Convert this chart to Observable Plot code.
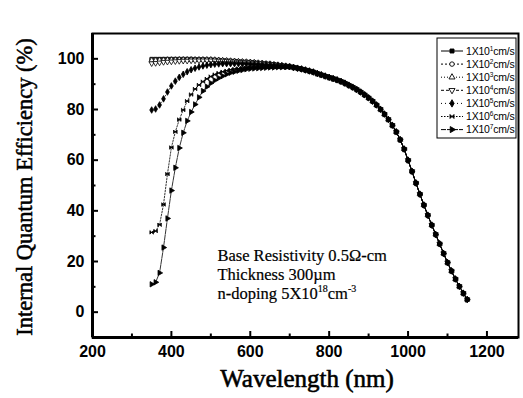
<!DOCTYPE html>
<html><head><meta charset="utf-8">
<script src="https://cdn.jsdelivr.net/npm/d3@7"></script>
<script src="https://cdn.jsdelivr.net/npm/@observablehq/plot@0.6"></script>
<style>body{margin:0;background:#fff}#chart svg{display:block}</style>
</head><body><div id="chart"></div>
<script>
// ---- data ----
const seriesExp = ["1", "2", "3", "4", "5", "6", "7"]; // 1X10^n cm/s
const shortWl = [350,360,370,380,390,400,410,420,430,440,450,460,470,480,490,500,510,520,530,540,550,560,570,580,590,600,610,620,630,640,650,660,670,680,690];
const iqe1 = [99.9,99.9,99.9,99.9,99.9,99.9,99.9,99.9,99.9,99.9,99.9,99.8,99.8,99.8,99.7,99.7,99.6,99.5,99.4,99.3,99.2,99.1,99.0,98.9,98.8,98.7,98.6,98.4,98.3,98.1,98.0,97.8,97.6,97.4,97.2];
const iqe2 = [99.7,99.7,99.7,99.8,99.8,99.8,99.8,99.8,99.8,99.8,99.8,99.8,99.8,99.8,99.7,99.7,99.6,99.5,99.4,99.3,99.2,99.1,99.0,98.9,98.8,98.7,98.6,98.4,98.3,98.1,98.0,97.8,97.6,97.4,97.2];
const iqe3 = [99.4,99.4,99.5,99.5,99.6,99.6,99.6,99.7,99.7,99.7,99.7,99.7,99.7,99.7,99.7,99.7,99.6,99.5,99.4,99.3,99.2,99.1,99.0,98.9,98.8,98.7,98.6,98.4,98.3,98.1,98.0,97.8,97.6,97.4,97.2];
const iqe4 = [98.2,98.3,98.5,98.7,98.8,98.9,99.0,99.1,99.2,99.2,99.3,99.3,99.3,99.3,99.3,99.3,99.3,99.2,99.2,99.1,99.0,98.9,98.8,98.7,98.6,98.5,98.4,98.3,98.2,98.0,97.9,97.7,97.5,97.3,97.1];
const iqe5 = [79.8,80.2,81.8,84.2,86.9,89.3,91.2,92.7,93.9,94.9,95.7,96.3,96.8,97.2,97.5,97.7,97.9,98.0,98.1,98.1,98.1,98.1,98.1,98.0,98.0,97.9,97.9,97.8,97.7,97.6,97.5,97.4,97.3,97.2,97.0];
const iqe6 = [31.5,32.0,34.5,42.5,54.5,65.0,71.2,76.0,79.8,83.3,85.9,88.1,89.7,91.0,92.1,93.0,93.8,94.4,94.9,95.3,95.7,96.0,96.2,96.4,96.5,96.6,96.7,96.7,96.7,96.7,96.7,96.7,96.8,96.8,96.8];
const iqe7 = [11.0,11.8,15.5,25.5,37.0,48.0,57.0,64.8,70.8,75.5,79.0,82.0,84.8,87.3,89.0,90.4,91.5,92.4,93.2,93.9,94.5,94.9,95.3,95.6,95.9,96.1,96.2,96.3,96.4,96.5,96.6,96.6,96.7,96.7,96.8];
// long-wavelength part, common to all seven curves
const tailWl = [700,710,720,730,740,750,760,770,780,790,800,810,820,830,840,850,860,870,880,890,900,910,920,930,940,950,960,970,980,990,1000,1010,1020,1030,1040,1050,1060,1070,1080,1090,1100,1110,1120,1130,1140,1150];
const tailIQE = [96.9,96.6,96.3,96.0,95.6,95.2,94.8,94.2,93.7,93.2,92.7,92.2,91.7,91.1,90.4,89.6,88.8,87.9,86.9,85.8,84.6,83.3,81.8,80.1,78.2,76.1,73.8,71.2,68.1,64.4,60.0,55.6,51.0,46.6,42.3,38.3,34.4,30.7,27.0,23.2,19.6,16.3,13.1,10.2,7.5,5.0];
const xTicks = [200,400,600,800,1000,1200];
const xMinor = [300,500,700,900,1100];
const yTicks = [0,20,40,60,80,100];
const yMinor = [10,30,50,70,90];
const noteLines = ["Base Resistivity 0.5\u03A9-cm", "Thickness 300\u00B5m"];

// ---- symbols ----
const s3 = Math.sqrt(3);
const triDown = {draw(c, size){ const y = -Math.sqrt(size/(s3*3)); c.moveTo(0,-2*y); c.lineTo(-s3*y, y); c.lineTo(s3*y, y); c.closePath(); }};
const triRight = {draw(c, size){ const y = -Math.sqrt(size/(s3*3)); c.moveTo(-2*y,0); c.lineTo(y, s3*y); c.lineTo(y, -s3*y); c.closePath(); }};
const bowtie = {draw(c, size){ const r = Math.sqrt(size)/2; c.moveTo(-r,-r); c.lineTo(r,r); c.lineTo(r,-r); c.lineTo(-r,r); c.closePath(); }};

const styles = [
  {sym: d3.symbolSquare, open: false, dash: null},
  {sym: d3.symbolCircle, open: true, dash: "2,2"},
  {sym: d3.symbolTriangle, open: true, dash: "1,2"},
  {sym: triDown, open: true, dash: "3,2"},
  {sym: d3.symbolDiamond, open: false, dash: "1,3"},
  {sym: bowtie, open: false, dash: "1.5,1.5"},
  {sym: triRight, open: false, dash: "5,1"}
];
const shortVals = [iqe1, iqe2, iqe3, iqe4, iqe5, iqe6, iqe7];
const rows = seriesExp.map((e, i) => [
  ...shortWl.map((w, j) => ({wl: w, v: shortVals[i][j], s: e})),
  ...tailWl.map((w, j) => ({wl: w, v: tailIQE[j], s: e}))
]);

const W = 523, H = 398, mL = 92, mR = 5, mT = 33, mB = 61;
const fw = W - mL - mR, fh = H - mT - mB;

const plot = Plot.plot({
  width: W, height: H,
  marginLeft: mL, marginRight: mR, marginTop: mT, marginBottom: mB,
  x: {domain: [200, 1280]},
  y: {domain: [-10, 110]},
  style: {fontFamily: "Liberation Sans, Arial, sans-serif", fontSize: "16px", fontWeight: "bold", background: "white", color: "black"},
  marks: [
    ...rows.map((r, i) => Plot.line(r, {x: "wl", y: "v", stroke: "black", strokeWidth: 0.8, strokeDasharray: styles[i].dash})),
    ...rows.map((r, i) => Plot.dot(r, {x: "wl", y: "v", symbol: styles[i].sym, r: 2, fill: styles[i].open ? "white" : "black", stroke: "black", strokeWidth: 0.8})),
    Plot.ruleX(xTicks, {x: d => d, insetTop: fh - 6, strokeWidth: 2}),
    Plot.ruleX(xMinor, {x: d => d, insetTop: fh - 3.5, strokeWidth: 2}),
    Plot.ruleY(yTicks, {y: d => d, insetRight: fw - 6, strokeWidth: 2}),
    Plot.ruleY(yMinor, {y: d => d, insetRight: fw - 3.5, strokeWidth: 2}),
    Plot.axisX({ticks: xTicks, tickFormat: d => String(d), tickSize: 0, tickPadding: 8, label: null, fontSize: 16, fontWeight: "bold", fill: "black"}),
    Plot.axisY({ticks: yTicks, tickFormat: d => String(d), tickSize: 0, tickPadding: 8, label: null, fontSize: 16, fontWeight: "bold", fill: "black"}),
    Plot.frame({stroke: "black", strokeWidth: 2}),
    Plot.ruleX([200], {strokeWidth: 3}),
    Plot.ruleY([-10], {strokeWidth: 3})
  ]
});
document.getElementById("chart").appendChild(plot);

const svg = d3.select(plot);
const sx = plot.scale("x"), sy = plot.scale("y");

// axis titles
svg.append("text").attr("x", 307).attr("y", 387)
  .attr("text-anchor", "middle").attr("font-family", "Liberation Serif, serif")
  .attr("font-size", 25).attr("font-weight", "normal").attr("fill", "black")
  .attr("stroke", "black").attr("stroke-width", 0.6).text("Wavelength (nm)");
svg.append("text").attr("transform", `translate(32,${mT + fh/2 + 2}) rotate(-90)`)
  .attr("text-anchor", "middle").attr("font-family", "Liberation Serif, serif")
  .attr("font-size", 22.5).attr("font-weight", "normal").attr("fill", "black")
  .attr("stroke", "black").attr("stroke-width", 0.5).text("Internal Quantum Efficiency (%)");

// annotation
const nx = sx.apply(518);
const note = svg.append("g").attr("font-family", "Liberation Serif, serif").attr("font-size", 16.5)
  .attr("font-weight", "normal").attr("text-anchor", "start").attr("fill", "black")
  .attr("stroke", "black").attr("stroke-width", 0.2);
noteLines.forEach((t, i) => note.append("text").attr("x", nx).attr("y", sy.apply(20) + i*19).text(t));
const l3 = note.append("text").attr("x", nx).attr("y", sy.apply(20) + 38);
l3.append("tspan").text("n-doping 5X10");
l3.append("tspan").attr("font-size", 10).attr("dy", -7).text("18");
l3.append("tspan").attr("dy", 7).text("cm");
l3.append("tspan").attr("font-size", 10).attr("dy", -7).text("-3");

// legend
const lg = svg.append("g").attr("text-anchor", "start").attr("font-weight", "normal");
lg.append("rect").attr("x", 437).attr("y", 38).attr("width", 79).attr("height", 100)
  .attr("fill", "white").attr("stroke", "black").attr("stroke-width", 1);
seriesExp.forEach((e, i) => {
  const y = 51 + i*13.1;
  lg.append("line").attr("x1", 441).attr("x2", 463).attr("y1", y).attr("y2", y)
    .attr("stroke", "black").attr("stroke-width", 1).attr("stroke-dasharray", styles[i].dash);
  lg.append("path").attr("d", d3.symbol().type(styles[i].sym).size(16)())
    .attr("transform", `translate(452,${y})`)
    .attr("fill", styles[i].open ? "white" : "black").attr("stroke", "black").attr("stroke-width", 0.9);
  const t = lg.append("text").attr("x", 466).attr("y", y + 3.8)
    .attr("font-family", "Liberation Sans, Arial, sans-serif").attr("font-size", 10.5).attr("fill", "black")
    .attr("letter-spacing", -0.2);
  t.append("tspan").text("1X10");
  t.append("tspan").attr("font-size", 6.5).attr("dy", -4).text(e);
  t.append("tspan").attr("dy", 4).text("cm/s");
});
</script>
</body></html>
